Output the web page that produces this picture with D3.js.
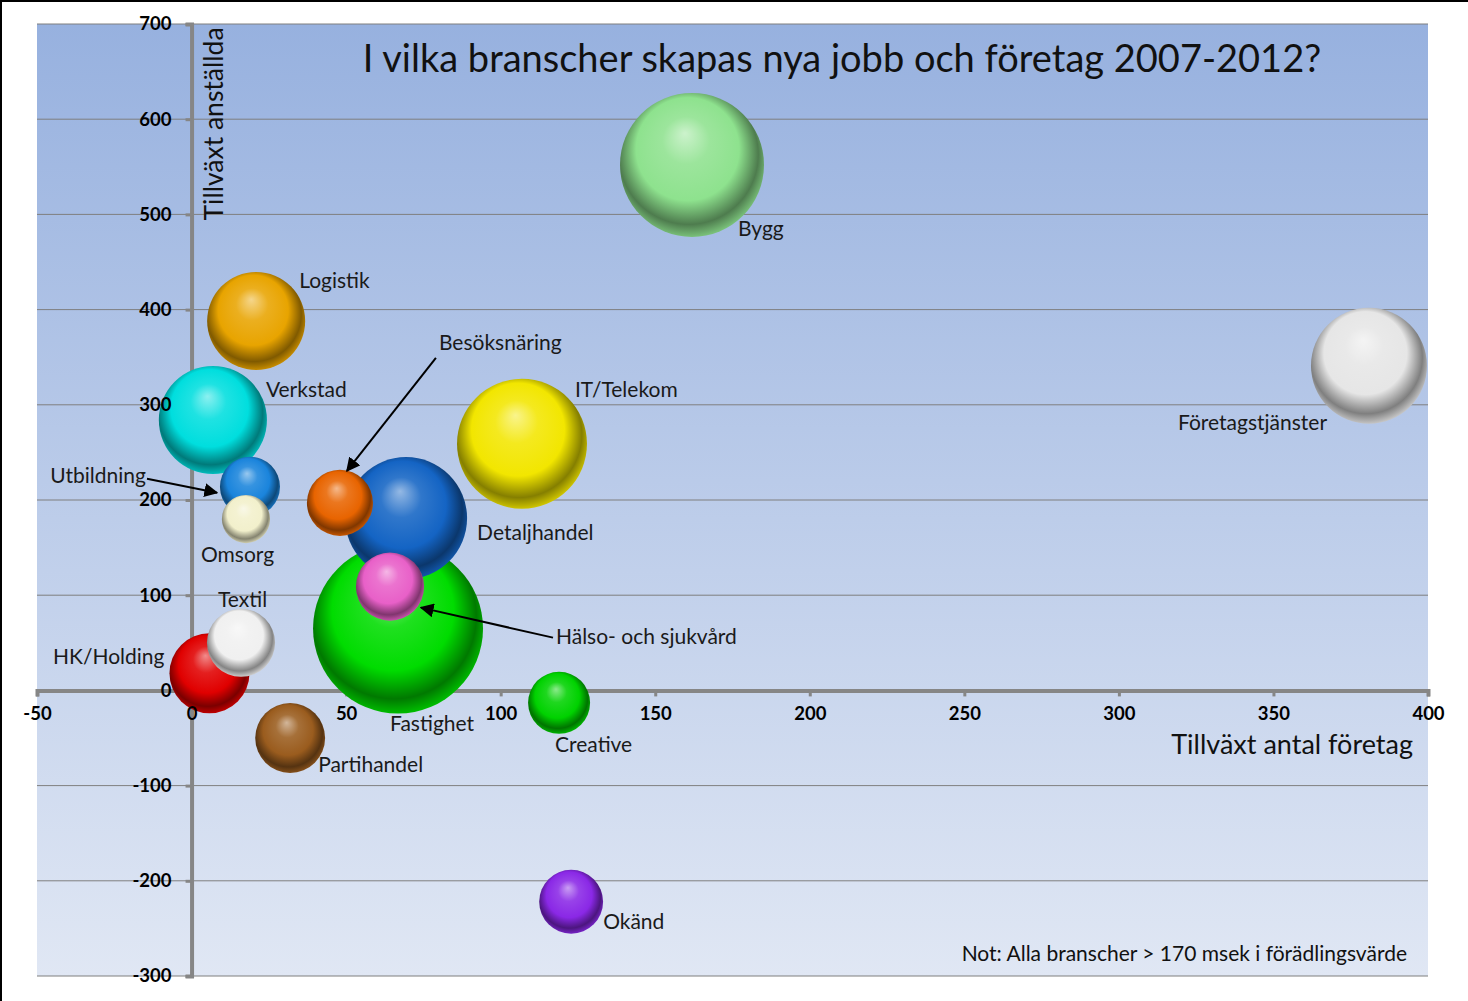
<!DOCTYPE html>
<html><head><meta charset="utf-8">
<script src="https://cdn.jsdelivr.net/npm/d3@7"></script>
<style>
body{margin:0;background:#fff;}
svg{display:block;font-family:Lato,"Open Sans",sans-serif;}
</style></head>
<body><svg id="c" width="1468" height="1001"></svg>
<script>
// ---- data ----
const branches = ["Fastighet","Bygg","IT/Telekom","Detaljhandel","Företagstjänster","Verkstad","Logistik","HK/Holding","Partihandel","Hälso- och sjukvård","Textil","Besöksnäring","Okänd","Creative","Utbildning","Omsorg"];
const growthCompanies = [66.8,161.9,106.9,69.4,380.9,6.9,20.9,5.8,31.9,64.2,16,48,122.8,118.9,18.9,17.6];
const growthEmployees = [65,552,259,181,341,284,388,18,-50,109,50,197,-222,-13,214,180];
const bubbleSize = [722,518,422,372,336,292,240,160,122,116,116,109,102,96,90,58];
const bubbleColors = ["#00dc00","#8ee28e","#f2e600","#1464c4","#e6e6e6","#00dede","#e8a400","#e00000","#9a5c1e","#e860c8","#f0f0f0","#e86400","#8a28e6","#00d200","#1a84dc","#f2f0cc"];
const xTicks = [-50,0,50,100,150,200,250,300,350,400];
const yTicks = [-300,-200,-100,0,100,200,300,400,500,600,700];
const title = "I vilka branscher skapas nya jobb och företag 2007-2012?";
const xTitle = "Tillväxt antal företag";
const yTitle = "Tillväxt anställda";
const note = "Not: Alla branscher > 170 msek i förädlingsvärde";

// label layout (offsets from bubble centre, px) and arrows
const labelLayout = {
  "Fastighet":[-8,97,"start"],
  "Bygg":[46,66,"start"],
  "IT/Telekom":[53,-52,"start"],
  "Detaljhandel":[71,17,"start"],
  "Företagstjänster":[-191,59,"start"],
  "Verkstad":[53,-28,"start"],
  "Logistik":[43,-38,"start"],
  "HK/Holding":[-45,-15,"end"],
  "Partihandel":[28,29,"start"],
  "Hälso- och sjukvård":[166,52,"start"],
  "Textil":[-23,-41,"start"],
  "Besöksnäring":[99,-158,"start"],
  "Okänd":[32,22,"start"],
  "Creative":[-4,44,"start"],
  "Utbildning":[-104,-9,"end"],
  "Omsorg":[-45,38,"start"]
};
const arrows = {
  "Besöksnäring":[[96,-145],[7,-32]],
  "Utbildning":[[-103,-8],[-33,6]],
  "Hälso- och sjukvård":[[163,51],[31,21]]
};

const svg = d3.select("#c");
const x = d3.scaleLinear().domain([-50,400]).range([37,1428]);
const y = d3.scaleLinear().domain([-300,700]).range([976,24]);
const r = d3.scaleSqrt().domain([0,d3.max(bubbleSize)]).range([0,85]);

const defs = svg.append("defs");
const bg = defs.append("linearGradient").attr("id","bg").attr("x1",0).attr("y1",0).attr("x2",0).attr("y2",1);
bg.append("stop").attr("offset","0%").attr("stop-color","#97b1df");
bg.append("stop").attr("offset","100%").attr("stop-color","#e0e7f4");

defs.append("marker").attr("id","arr").attr("viewBox","0 0 10 10").attr("refX",9).attr("refY",5)
  .attr("markerWidth",7).attr("markerHeight",7).attr("orient","auto")
  .append("path").attr("d","M0,0L10,5L0,10z").attr("fill","#000");

// border of picture
svg.append("line").attr("x1",0).attr("x2",1468).attr("y1",1).attr("y2",1).attr("stroke","#000").attr("stroke-width",2);
svg.append("line").attr("x1",1).attr("x2",1).attr("y1",0).attr("y2",1001).attr("stroke","#000").attr("stroke-width",2);

// plot area
svg.append("rect").attr("x",x(-50)).attr("y",y(700)).attr("width",x(400)-x(-50)).attr("height",y(-300)-y(700)).attr("fill","url(#bg)");

// gridlines
svg.append("g").selectAll("line").data(yTicks).join("line")
  .attr("x1",x(-50)).attr("x2",x(400)).attr("y1",d=>y(d)).attr("y2",d=>y(d))
  .attr("stroke","#7f7f7f").attr("stroke-width",1);

// axes: lines below bubbles, labels on top
function drawAxes(showLines){
  const yAxis = svg.append("g").attr("transform",`translate(${x(0)},0)`)
    .call(d3.axisLeft(y).tickValues(yTicks).tickSize(6).tickPadding(14).tickFormat(d=>String(d)));
  const xAxis = svg.append("g").attr("transform",`translate(0,${y(0)})`)
    .call(d3.axisBottom(x).tickValues(xTicks).tickSize(6).tickPadding(18).tickFormat(d=>String(d)));
  [yAxis,xAxis].forEach(a=>{
    if(showLines){
      a.select(".domain").attr("stroke","#868686").attr("stroke-width",4);
      a.selectAll(".tick line").attr("stroke","#868686").attr("stroke-width",3);
      a.selectAll(".tick text").remove();
    } else {
      a.select(".domain").remove();
      a.selectAll(".tick line").remove();
      a.selectAll(".tick text").attr("font-family","Lato, sans-serif").attr("font-size",18.5).attr("font-weight","bold").attr("fill","#000");
    }
  });
  xAxis.selectAll(".tick text").attr("dy","0.3em");
}
drawAxes(true);

// bubble gradients
function shade(c,k){return d3.interpolateRgb(c, k>0?"#fff":"#000")(Math.abs(k));}
const data = branches.map((b,i)=>({name:b,xv:growthCompanies[i],yv:growthEmployees[i],s:bubbleSize[i],c:bubbleColors[i],i}))
  .sort((a,b)=>b.s-a.s);
data.forEach(d=>{
  const g = defs.append("radialGradient").attr("id","g"+d.i).attr("cx","48%").attr("cy","45%").attr("r","55%").attr("fx","45%").attr("fy","28%");
  g.append("stop").attr("offset","0%").attr("stop-color",shade(d.c,0.55));
  g.append("stop").attr("offset","30%").attr("stop-color",shade(d.c,0.12));
  g.append("stop").attr("offset","65%").attr("stop-color",d.c);
  g.append("stop").attr("offset","88%").attr("stop-color",shade(d.c,-0.45));
  g.append("stop").attr("offset","100%").attr("stop-color",shade(d.c,-0.15));
});
svg.append("g").selectAll("circle").data(data).join("circle")
  .attr("cx",d=>x(d.xv)).attr("cy",d=>y(d.yv)).attr("r",d=>r(d.s))
  .attr("fill",d=>`url(#g${d.i})`);

drawAxes(false);

// labels
const lab = svg.append("g").attr("font-size",21).attr("fill","#1a1a1a");
data.forEach(d=>{
  const L = labelLayout[d.name];
  lab.append("text").attr("x",x(d.xv)+L[0]).attr("y",y(d.yv)+L[1]).attr("text-anchor",L[2])
    .attr("dominant-baseline","middle").text(d.name);
  const A = arrows[d.name];
  if(A){
    svg.append("line").attr("x1",x(d.xv)+A[0][0]).attr("y1",y(d.yv)+A[0][1])
      .attr("x2",x(d.xv)+A[1][0]).attr("y2",y(d.yv)+A[1][1])
      .attr("stroke","#000").attr("stroke-width",2).attr("marker-end","url(#arr)");
  }
});

// titles
svg.append("text").attr("x",842).attr("y",62).attr("text-anchor","middle").attr("dominant-baseline","middle")
  .attr("font-size",38).attr("fill","#111").text(title);
svg.append("text").attr("transform","translate(216,124) rotate(-90)").attr("text-anchor","middle").attr("dominant-baseline","middle")
  .attr("font-size",26.5).attr("fill","#111").text(yTitle);
svg.append("text").attr("x",1413).attr("y",747).attr("text-anchor","end").attr("dominant-baseline","middle")
  .attr("font-size",27).attr("fill","#111").text(xTitle);
svg.append("text").attr("x",1407).attr("y",956).attr("text-anchor","end").attr("dominant-baseline","middle")
  .attr("font-size",21).attr("fill","#111").text(note);
</script></body></html>
